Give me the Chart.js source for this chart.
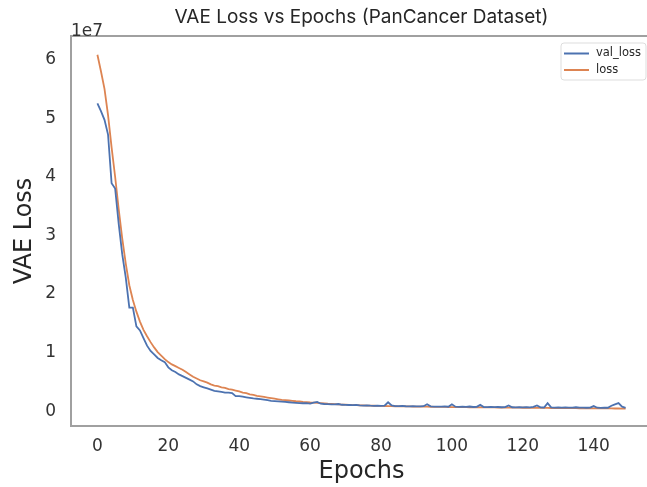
<!DOCTYPE html>
<html>
<head>
<meta charset="utf-8">
<script src="https://cdn.jsdelivr.net/npm/chart.js@4.4.1/dist/chart.umd.min.js"></script>
<style>
  html, body { margin: 0; padding: 0; background: #fff; overflow: hidden; width: 647px; height: 487px; }
  #wrap { width: 722px; height: 487px; }
</style>
</head>
<body>
<div id="wrap"><canvas id="c" width="722" height="487"></canvas></div>
<script>
// Values in units of 1e7
const valLoss = [
  5.25, 5.12, 4.97, 4.72, 3.89, 3.80, 3.20, 2.68, 2.28, 1.77,
  1.77, 1.45, 1.38, 1.25, 1.12, 1.03, 0.97, 0.91, 0.87, 0.84,
  0.75, 0.70, 0.67, 0.63, 0.60, 0.57, 0.54, 0.51, 0.46, 0.43,
  0.41, 0.39, 0.37, 0.35, 0.34, 0.33, 0.32, 0.32, 0.31, 0.26,
  0.26, 0.25, 0.24, 0.23, 0.22, 0.215, 0.21, 0.20, 0.19, 0.18,
  0.175, 0.17, 0.165, 0.16, 0.155, 0.15, 0.145, 0.14, 0.138, 0.14,
  0.132, 0.15, 0.16, 0.13, 0.125, 0.122, 0.12, 0.118, 0.125, 0.112,
  0.11, 0.108, 0.105, 0.11, 0.10, 0.098, 0.102, 0.096, 0.094, 0.095,
  0.092, 0.096, 0.155, 0.10, 0.09, 0.088, 0.092, 0.087, 0.085, 0.09,
  0.084, 0.083, 0.088, 0.12, 0.085, 0.08, 0.082, 0.079, 0.085, 0.078,
  0.12, 0.08, 0.076, 0.078, 0.075, 0.082, 0.074, 0.076, 0.11, 0.073,
  0.072, 0.075, 0.071, 0.074, 0.07, 0.072, 0.10, 0.07, 0.069, 0.072,
  0.068, 0.07, 0.067, 0.075, 0.10, 0.068, 0.066, 0.14, 0.068, 0.065,
  0.067, 0.064, 0.066, 0.063, 0.065, 0.07, 0.062, 0.064, 0.061, 0.063,
  0.09, 0.062, 0.06, 0.064, 0.061, 0.095, 0.12, 0.14, 0.08, 0.058
];
const loss = [
  6.08, 5.80, 5.50, 5.05, 4.50, 4.00, 3.45, 2.95, 2.52, 2.15,
  1.90, 1.70, 1.53, 1.39, 1.28, 1.18, 1.09, 1.01, 0.95, 0.89,
  0.84, 0.80, 0.77, 0.74, 0.71, 0.67, 0.63, 0.59, 0.56, 0.53,
  0.51, 0.49, 0.46, 0.44, 0.43, 0.41, 0.40, 0.38, 0.37, 0.355,
  0.34, 0.32, 0.31, 0.29, 0.28, 0.265, 0.255, 0.245, 0.235, 0.225,
  0.215, 0.205, 0.195, 0.19, 0.185, 0.178, 0.172, 0.168, 0.162, 0.158,
  0.152, 0.150, 0.146, 0.14, 0.135, 0.13, 0.127, 0.123, 0.12, 0.116,
  0.113, 0.11, 0.107, 0.105, 0.103, 0.101, 0.099, 0.097, 0.095, 0.094,
  0.092, 0.091, 0.09, 0.088, 0.087, 0.086, 0.085, 0.084, 0.083, 0.082,
  0.081, 0.08, 0.079, 0.079, 0.078, 0.077, 0.076, 0.076, 0.075, 0.074,
  0.073, 0.073, 0.072, 0.071, 0.071, 0.07, 0.07, 0.069, 0.068, 0.068,
  0.067, 0.067, 0.066, 0.065, 0.065, 0.064, 0.064, 0.063, 0.062, 0.062,
  0.061, 0.061, 0.06, 0.06, 0.059, 0.059, 0.058, 0.058, 0.057, 0.057,
  0.056, 0.056, 0.055, 0.055, 0.054, 0.054, 0.053, 0.053, 0.052, 0.052,
  0.051, 0.051, 0.05, 0.05, 0.049, 0.049, 0.048, 0.048, 0.047, 0.047
];
const xTicks = [0, 20, 40, 60, 80, 100, 120, 140];
const yTicks = [0, 1, 2, 3, 4, 5, 6];
const seriesLabels = ['val_loss', 'loss'];
const seriesColors = ['#4C72B0', '#DD8452'];

const toPoints = arr => arr.map((v, i) => ({ x: i, y: v }));

const framePlugin = {
  id: 'frame',
  afterDraw(chart) {
    const { ctx, chartArea: a } = chart;
    ctx.save();
    // axes frame (right edge lies beyond the visible page)
    ctx.strokeStyle = '#a0a0a0';
    ctx.lineWidth = 2;
    ctx.beginPath();
    ctx.moveTo(a.right, a.top);
    ctx.lineTo(a.left, a.top);
    ctx.lineTo(a.left, a.bottom);
    ctx.lineTo(a.right, a.bottom);
    ctx.stroke();
    // offset text
    ctx.fillStyle = '#333';
    ctx.font = '17px "DejaVu Sans"';
    ctx.textAlign = 'left';
    ctx.textBaseline = 'alphabetic';
    ctx.fillText('1e7', a.left, a.top);
    // legend
    const bx = 561, by = 43, bw = 85, bh = 37, r = 3;
    ctx.beginPath();
    ctx.moveTo(bx + r, by);
    ctx.arcTo(bx + bw, by, bx + bw, by + bh, r);
    ctx.arcTo(bx + bw, by + bh, bx, by + bh, r);
    ctx.arcTo(bx, by + bh, bx, by, r);
    ctx.arcTo(bx, by, bx + bw, by, r);
    ctx.closePath();
    ctx.fillStyle = 'rgba(255,255,255,0.85)';
    ctx.fill();
    ctx.strokeStyle = '#dddddd';
    ctx.lineWidth = 1;
    ctx.stroke();
    ctx.font = '11.5px "DejaVu Sans"';
    ctx.textBaseline = 'middle';
    chart.data.datasets.forEach((ds, i) => {
      const yy = by + 10.5 + i * 16.5;
      ctx.strokeStyle = ds.borderColor;
      ctx.lineWidth = 2;
      ctx.beginPath();
      ctx.moveTo(564, yy);
      ctx.lineTo(589, yy);
      ctx.stroke();
      ctx.fillStyle = '#262626';
      ctx.fillText(ds.label, 596, yy);
    });
    ctx.restore();
  }
};

new Chart(document.getElementById('c'), {
  type: 'line',
  data: {
    datasets: [
      { label: seriesLabels[0], data: toPoints(valLoss), borderColor: seriesColors[0], borderWidth: 1.8, pointRadius: 0, tension: 0, fill: false },
      { label: seriesLabels[1], data: toPoints(loss), borderColor: seriesColors[1], borderWidth: 1.8, pointRadius: 0, tension: 0, fill: false }
    ]
  },
  options: {
    responsive: false,
    animation: false,
    layout: { padding: { left: 0, right: 70, top: 0, bottom: 0 } },
    plugins: {
      legend: { display: false },
      tooltip: { enabled: false },
      title: {
        display: true,
        fullSize: false,
        text: 'VAE Loss vs Epochs (PanCancer Dataset)',
        color: '#262626',
        font: { family: 'Inter', size: 19, weight: 'normal' },
        padding: { top: 6, bottom: 7.2 }
      }
    },
    scales: {
      x: {
        type: 'linear',
        min: -7.45,
        max: 156.45,
        grid: { display: false, drawTicks: false },
        border: { display: false },
        afterBuildTicks: s => { s.ticks = xTicks.map(v => ({ value: v })); },
        afterFit: s => { s.height = 61; s.paddingLeft = 0; s.paddingRight = 0; },
        ticks: { color: '#333', font: { family: 'DejaVu Sans', size: 17 }, padding: 10, maxRotation: 0, autoSkip: false },
        title: { display: true, text: 'Epochs', color: '#262626', font: { family: 'DejaVu Sans', size: 24 }, padding: { top: 0, bottom: 1 } }
      },
      y: {
        type: 'linear',
        min: -0.25,
        max: 6.40,
        grid: { display: false, drawTicks: false },
        border: { display: false },
        afterBuildTicks: s => { s.ticks = yTicks.map(v => ({ value: v })); },
        afterFit: s => { s.width = 71; s.paddingTop = 0; s.paddingBottom = 0; },
        ticks: { color: '#333', font: { family: 'DejaVu Sans', size: 17 }, padding: 15, autoSkip: false },
        title: { display: true, text: 'VAE Loss', color: '#262626', font: { family: 'DejaVu Sans', size: 24 }, padding: { top: 10, bottom: 0 } }
      }
    }
  },
  plugins: [framePlugin]
});
</script>
</body>
</html>
